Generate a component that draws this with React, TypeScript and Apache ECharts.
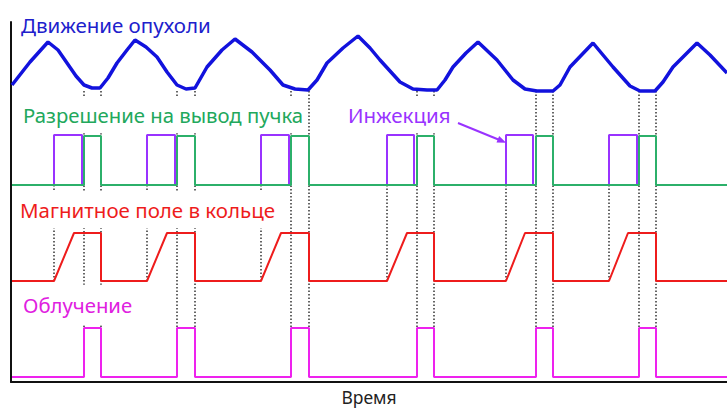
import { useEffect, useRef } from "react";
import * as echarts from "echarts";

// Cycle event times (arbitrary time units)
const injectionStart = [43, 136, 250, 376, 495, 598];
const injectionEnd = [71, 164, 278, 403, 522, 626];
const extractionStart = [73, 166, 280, 406, 525, 628];
const extractionEnd = [90, 184, 298, 423, 542, 645];
const rampEnd = [63, 156, 270, 396, 514, 617];

const timeStart = 1;
const timeMax = 716;
const levelMax = 360;

// Signal levels [low, high]
const gateLevels = [197, 246];
const injectionLevels = [197, 247];
const fieldLevels = [101, 149];
const beamLevels = [5, 54];
const motionTrough = 291;

// Tumor motion trace
const tumorTime = [
  1, 19, 37, 47, 56, 65, 73, 81, 89, 97, 106, 116, 124, 135, 146, 156, 166, 175, 184,
  196, 211, 224, 241, 259, 272, 284, 297, 306, 316, 332, 347, 359, 369, 389, 402, 416,
  426, 434, 442, 455, 467, 486, 502, 514, 526, 542, 549, 559, 582, 592, 602, 619, 629,
  644, 652, 662, 686, 699, 716,
];
const tumorPosition = [
  297, 320, 340, 332, 319, 306, 297, 294, 294, 304, 319, 332, 342, 335, 325, 310, 297, 293, 294,
  315, 332, 343, 330, 312, 297, 293, 292, 302, 319, 334, 346, 334, 322, 300, 293, 292,
  292, 302, 315, 329, 340, 322, 302, 293, 291, 291, 297, 315, 339, 327, 315, 296, 291,
  291, 300, 315, 339, 327, 309,
];

const labelFont = "'Noto Sans', 'Open Sans', sans-serif";

export default function App() {
  const ref = useRef<HTMLDivElement>(null);

  useEffect(() => {
    if (!ref.current) return;
    const chart = echarts.init(ref.current, undefined, { renderer: "svg" });

    const pulse = (starts: number[], ends: number[], lv: number[]) => {
      const d: number[][] = [[timeStart, lv[0]]];
      starts.forEach((s, i) => {
        d.push([s, lv[0]], [s, lv[1]], [ends[i], lv[1]], [ends[i], lv[0]]);
      });
      d.push([timeMax, lv[0]]);
      return d;
    };

    const field: number[][] = [[timeStart, fieldLevels[0]]];
    injectionStart.forEach((s, i) => {
      field.push(
        [s, fieldLevels[0]],
        [rampEnd[i], fieldLevels[1]],
        [extractionEnd[i], fieldLevels[1]],
        [extractionEnd[i], fieldLevels[0]]
      );
    });
    field.push([timeMax, fieldLevels[0]]);

    const base = {
      type: "line" as const,
      showSymbol: false,
      symbol: "none",
      silent: true,
      animation: false,
    };

    const dotted: any[] = [];
    const dotStyle = { color: "#333", width: 1.5, type: [1.5, 2] };
    injectionStart.forEach((s) => {
      dotted.push({
        ...base,
        data: [
          [s, gateLevels[0]],
          [s, fieldLevels[0]],
        ],
        lineStyle: dotStyle,
      });
    });
    [...extractionStart, ...extractionEnd].forEach((t) => {
      dotted.push({
        ...base,
        data: [
          [t, motionTrough],
          [t, beamLevels[1]],
        ],
        lineStyle: dotStyle,
      });
    });

    const injections = injectionStart.map((s, i) => ({
      ...base,
      data: [
        [s, injectionLevels[0]],
        [s, injectionLevels[1]],
        [injectionEnd[i], injectionLevels[1]],
        [injectionEnd[i], injectionLevels[0]],
      ],
      lineStyle: { color: "#9933ff", width: 2 },
    }));

    const arrow = {
      ...base,
      data: [],
      markLine: {
        silent: true,
        symbol: ["none", "triangle"],
        symbolSize: [7, 9],
        label: { show: false },
        lineStyle: { color: "#9933ff", width: 2, type: "solid" },
        data: [
          [
            { coord: [447, 259] },
            { coord: [491, 241] },
          ],
        ],
      },
    };

    const textEl = (
      text: string,
      x: number,
      y: number,
      color: string,
      size: number,
      pad: number[] | null
    ) => ({
      type: "text",
      z: 100,
      x,
      y,
      style: {
        text,
        fill: color,
        font: `${size}px ${labelFont}`,
        textVerticalAlign: "middle",
        lineHeight: size,
        backgroundColor: pad ? "#fff" : undefined,
        padding: pad || undefined,
      },
    });

    chart.setOption({
      animation: false,
      grid: {
        left: 11,
        right: 0,
        top: 22,
        bottom: 27,
        containLabel: false,
        outerBoundsMode: "none",
      },
      xAxis: {
        type: "value",
        min: 0,
        max: timeMax,
        axisLine: { show: true, lineStyle: { color: "#111", width: 2 } },
        axisTick: { show: false },
        axisLabel: { show: false },
        splitLine: { show: false },
        name: "Время",
        nameLocation: "middle",
        nameGap: 6,
        nameTextStyle: {
          fontSize: 17.5,
          color: "#222",
          fontFamily: labelFont,
          verticalAlign: "top",
          lineHeight: 17,
        },
      },
      yAxis: {
        type: "value",
        min: 0,
        max: levelMax,
        axisLine: { show: true, lineStyle: { color: "#111", width: 2 } },
        axisTick: { show: false },
        axisLabel: { show: false },
        splitLine: { show: false },
      },
      series: [
        ...dotted,
        ...injections,
        arrow,
        {
          ...base,
          data: pulse(extractionStart, extractionEnd, gateLevels),
          lineStyle: { color: "#2cb06a", width: 2 },
        },
        { ...base, data: field, lineStyle: { color: "#ee1c1c", width: 2 } },
        {
          ...base,
          data: pulse(extractionStart, extractionEnd, beamLevels),
          lineStyle: { color: "#ee22ee", width: 2 },
        },
        {
          ...base,
          data: tumorTime.map((t, i) => [t, tumorPosition[i]]),
          lineStyle: { color: "#1212dd", width: 3.5 },
        },
      ],
      graphic: [
        textEl("Движение опухоли", 21, 25, "#2020cc", 20.5, null),
        textEl("Разрешение на вывод пучка", 21, 115, "#22a85c", 20.3, [8, 2, 8, 2]),
        textEl("Инжекция", 346, 115, "#9933ff", 20.5, [8, 2, 8, 2]),
        textEl("Магнитное поле в кольце", 18, 210, "#ee1c1c", 20.5, [8, 2, 8, 2]),
        textEl("Облучение", 21, 305, "#e020e0", 20.3, [10, 2, 10, 2]),
      ],
    });

    return () => chart.dispose();
  }, []);

  return (
    <div
      ref={ref}
      style={{ position: "fixed", left: 0, top: 0, width: 727, height: 409, background: "#fff" }}
    />
  );
}
